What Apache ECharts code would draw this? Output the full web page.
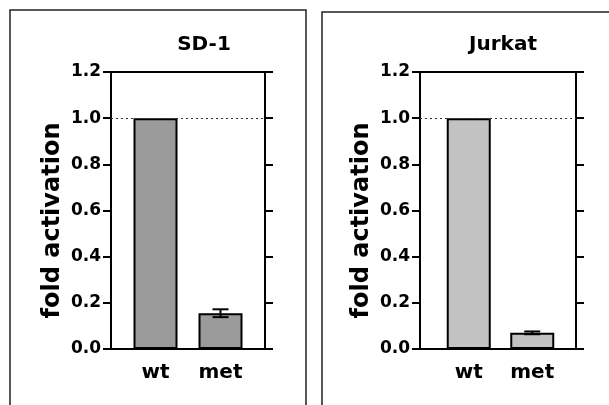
<!DOCTYPE html>
<html>
<head>
<meta charset="utf-8">
<script src="https://cdn.jsdelivr.net/npm/echarts@6/dist/echarts.min.js"></script>
<style>
    html, body { margin: 0; padding: 0; background: #fff; }
    #main { width: 609px; height: 405px; }
</style>
</head>
<body>
<div id="main"></div>
<script>
    // data
    var categories = ['wt', 'met'];
    var panelTitles = ['SD-1', 'Jurkat'];
    var sd1Values = [1.0, 0.155];
    var sd1Errors = [0, 0.017];
    var jurkatValues = [1.0, 0.07];
    var jurkatErrors = [0, 0.006];
    var refLevel = 1.0;          //虚线参考值
    var yMin = 0, yMax = 1.2, yStep = 0.2;

    var FONT = 'DejaVu Sans, sans-serif';
    var chart = echarts.init(document.getElementById('main'));

    //误差线
    function errorItem(params, api) {
        var x = api.value(0), v = api.value(1), e = api.value(2);
        if (!e) return null;
        var hi = api.coord([x, v + e]);
        var lo = api.coord([x, v - e]);
        var w = 8;
        var st = { stroke: '#000', lineWidth: 2 };
        return {
            type: 'group',
            children: [
                { type: 'line', shape: { x1: hi[0], y1: hi[1], x2: lo[0], y2: lo[1] }, style: st },
                { type: 'line', shape: { x1: hi[0] - w, y1: hi[1], x2: hi[0] + w, y2: hi[1] }, style: st },
                { type: 'line', shape: { x1: lo[0] - w, y1: lo[1], x2: lo[0] + w, y2: lo[1] }, style: st }
            ]
        };
    }

    function errData(vals, errs) {
        var out = [];
        for (var i = 0; i < vals.length; i++) out.push([i, vals[i], errs[i]]);
        return out;
    }

    var panels = [
        { frame: { left: 111, width: 154 }, bars: { left: 123, width: 130 }, values: sd1Values, errors: sd1Errors, color: '#9b9b9b', titleX: 199, titleY: 30, boxX: 10, boxY: 10, boxW: 296 },
        { frame: { left: 420, width: 156 }, bars: { left: 437, width: 127 }, values: jurkatValues, errors: jurkatErrors, color: '#c2c2c2', titleX: 498, titleY: 30, boxX: 322, boxY: 12, boxW: 300 }
    ];

    var grid = [], xAxis = [], yAxis = [], series = [], title = [], graphic = [];
    var axisLine = { show: true, onZero: false, lineStyle: { color: '#000', width: 2 } };
    var tick = { show: true, length: 8, lineStyle: { color: '#000', width: 2 } };

    panels.forEach(function (p, k) {
        var g0 = grid.length;
        grid.push({ left: p.frame.left, width: p.frame.width, top: 72, height: 277 });
        grid.push({ left: p.bars.left, width: p.bars.width, top: 72, height: 277 });

        var x0 = xAxis.length;
        // 外框 上/下
        xAxis.push({ type: 'value', gridIndex: g0, min: 0, max: 1, position: 'bottom', axisLine: axisLine, axisTick: { show: false }, axisLabel: { show: false }, splitLine: { show: false } });
        xAxis.push({ type: 'value', gridIndex: g0, min: 0, max: 1, position: 'top', axisLine: axisLine, axisTick: { show: false }, axisLabel: { show: false }, splitLine: { show: false } });
        // 分类
        xAxis.push({
            type: 'category', gridIndex: g0 + 1, data: categories,
            axisLine: { show: false }, axisTick: { show: false },
            axisLabel: { color: '#000', fontFamily: FONT, fontWeight: 'bold', fontSize: 20, margin: 14 }
        });

        var y0 = yAxis.length;
        yAxis.push({
            type: 'value', gridIndex: g0, min: yMin, max: yMax, interval: yStep, position: 'left',
            name: 'fold activation', nameLocation: 'middle', nameGap: 46,
            nameTextStyle: { color: '#000', fontFamily: FONT, fontWeight: 'bold', fontSize: 24, padding: [0, 20, 0, 0] },
            axisLine: axisLine, axisTick: tick,
            axisLabel: { color: '#000', fontFamily: FONT, fontWeight: 'bold', fontSize: 17, margin: 10,
                formatter: function (v) { return v.toFixed(1); } },
            splitLine: { show: false }
        });
        yAxis.push({
            type: 'value', gridIndex: g0, min: yMin, max: yMax, interval: yStep, position: 'right',
            axisLine: axisLine, axisTick: tick,
            axisLabel: { show: false }, splitLine: { show: false }
        });
        yAxis.push({ type: 'value', gridIndex: g0 + 1, min: yMin, max: yMax, show: false });

        // 1.0 虚线
        series.push({
            type: 'line', xAxisIndex: x0, yAxisIndex: y0, data: [], silent: true,
            markLine: {
                silent: true, symbol: 'none', animation: false,
                label: { show: false },
                lineStyle: { color: '#333', width: 1, type: [2, 3] },
                data: [{ yAxis: refLevel }]
            }
        });
        series.push({
            type: 'bar', xAxisIndex: x0 + 2, yAxisIndex: y0 + 2, data: p.values, barWidth: 44,
            itemStyle: { color: p.color, borderColor: '#000', borderWidth: 2 },
            animation: false, z: 3
        });
        series.push({
            type: 'custom', xAxisIndex: x0 + 2, yAxisIndex: y0 + 2,
            data: errData(p.values, p.errors), renderItem: errorItem, animation: false, z: 4
        });

        title.push({
            text: panelTitles[k], left: p.titleX, top: p.titleY, textAlign: 'center',
            textStyle: { color: '#000', fontFamily: FONT, fontWeight: 'bold', fontSize: 20 }
        });
        graphic.push({
            type: 'rect', silent: true, z: -1,
            shape: { x: p.boxX, y: p.boxY, width: p.boxW, height: 440 },
            style: { fill: 'none', stroke: '#222', lineWidth: 1.5 }
        });
    });

    chart.setOption({
        backgroundColor: '#fff',
        animation: false,
        title: title,
        grid: grid,
        xAxis: xAxis,
        yAxis: yAxis,
        series: series,
        graphic: graphic
    });
</script>
</body>
</html>
